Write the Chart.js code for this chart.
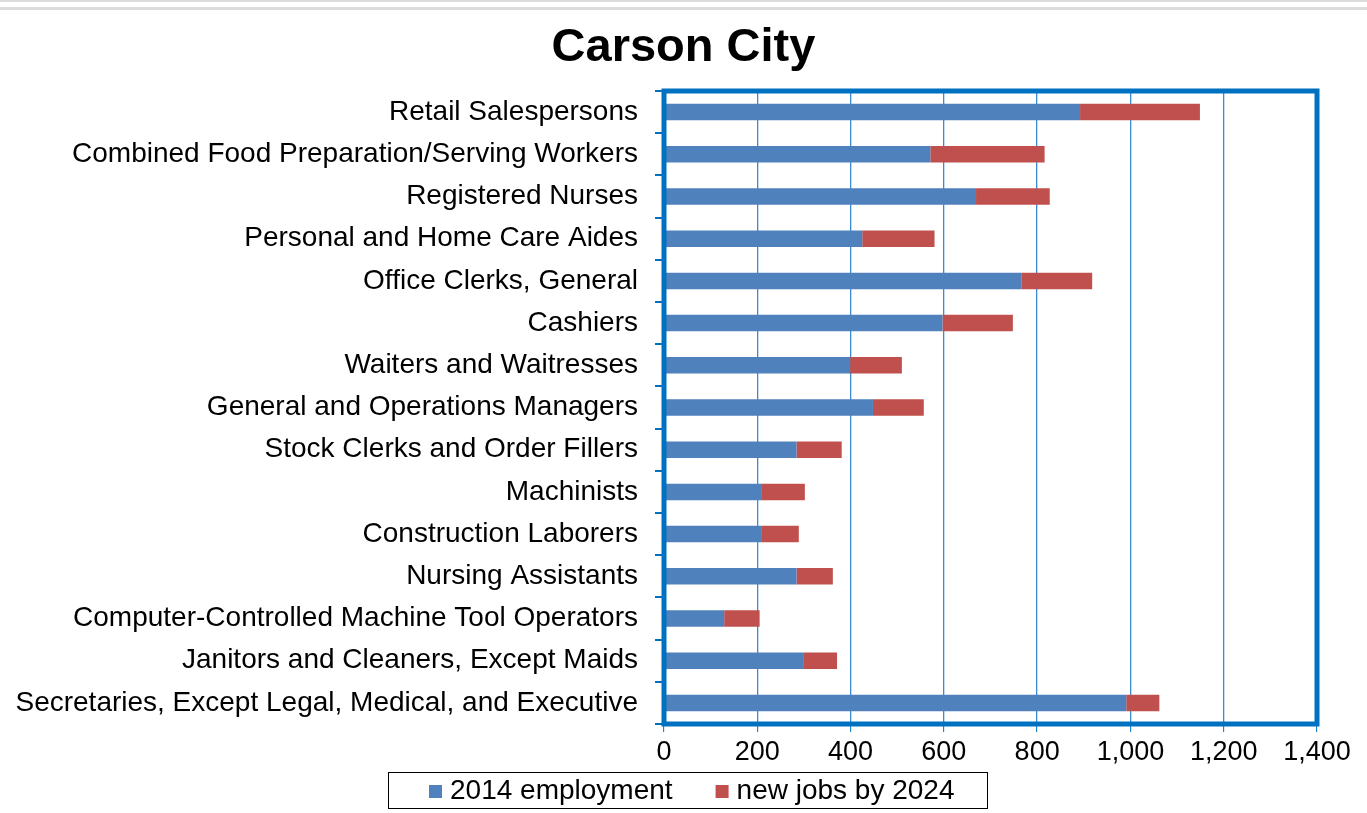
<!DOCTYPE html>
<html>
<head>
<meta charset="utf-8">
<script src="https://cdn.jsdelivr.net/npm/chart.js@4.4.1/dist/chart.umd.min.js"></script>
<style>
html,body{margin:0;padding:0;background:#fff;overflow:hidden}
#wrap{width:1367px;height:813px;position:relative}
</style>
</head>
<body>
<div id="wrap"><canvas id="c" width="1367" height="813"></canvas></div>
<script>
const chartTitle = 'Carson City';
const categories = [
  'Retail Salespersons',
  'Combined Food Preparation/Serving Workers',
  'Registered Nurses',
  'Personal and Home Care Aides',
  'Office Clerks, General',
  'Cashiers',
  'Waiters and Waitresses',
  'General and Operations Managers',
  'Stock Clerks and Order Fillers',
  'Machinists',
  'Construction Laborers',
  'Nursing Assistants',
  'Computer-Controlled Machine Tool Operators',
  'Janitors and Cleaners, Except Maids',
  'Secretaries, Except Legal, Medical, and Executive'
];
const employment2014 = [892, 571, 669, 425, 766, 597, 399, 448, 284, 210, 210, 284, 129, 300, 991];
const newJobs2024    = [257, 245, 158, 155, 152, 151, 111, 109, 97, 92, 79, 78, 76, 71, 71];
const seriesLabels = ['2014 employment', 'new jobs by 2024'];
const xTicks = [0, 200, 400, 600, 800, 1000, 1200, 1400];

const FONT = '"Liberation Sans", Arial, sans-serif';
const BLUE = '#4F81BD';
const RED = '#C0504D';
const FRAME = '#0070C0';
const LEGEND_FONT = '28px ' + FONT;

const decor = {
  id: 'decor',
  beforeDraw(chart) {
    const ctx = chart.ctx;
    ctx.save();
    ctx.fillStyle = '#fff';
    ctx.fillRect(0, 0, chart.width, chart.height);
    ctx.fillStyle = '#dcdcdc';
    ctx.fillRect(0, 0, chart.width, 2);
    ctx.fillRect(0, 7, chart.width, 3);
    ctx.restore();
  },
  afterDatasetsDraw(chart) {
    const ctx = chart.ctx, a = chart.chartArea;
    ctx.save();
    ctx.strokeStyle = FRAME;
    ctx.lineWidth = 5;
    ctx.strokeRect(a.left, a.top, a.right - a.left, a.bottom - a.top);
    ctx.restore();
  },
  afterDraw(chart) {
    // boxed legend below the x axis, built from the datasets
    const ctx = chart.ctx;
    ctx.save();
    ctx.font = LEGEND_FONT;
    const ds = chart.data.datasets;
    const padL = 41, padR = 32, sq = 13, gapSq = 8, gapItem = 43;
    const widths = ds.map(d => ctx.measureText(d.label).width);
    let total = padL + padR;
    widths.forEach((w, i) => { total += sq + gapSq + w + (i > 0 ? gapItem : 0); });
    const boxH = 36;
    const left = Math.round(chart.width / 2 + 3.5 - total / 2);
    const top = chart.height - 41;
    ctx.strokeStyle = '#000';
    ctx.lineWidth = 1;
    ctx.strokeRect(left + 0.5, top + 0.5, Math.round(total), boxH);
    const cy = top + boxH / 2 + 1;
    let x = left + padL;
    ds.forEach((d, i) => {
      if (i > 0) x += gapItem;
      ctx.fillStyle = d.backgroundColor;
      ctx.fillRect(x, Math.round(cy - sq / 2), sq, sq);
      x += sq + gapSq;
      ctx.fillStyle = '#000';
      ctx.textBaseline = 'middle';
      ctx.textAlign = 'left';
      ctx.fillText(d.label, x, cy);
      x += widths[i];
    });
    ctx.restore();
  }
};

new Chart(document.getElementById('c').getContext('2d'), {
  type: 'bar',
  data: {
    labels: categories,
    datasets: [
      { label: seriesLabels[0], data: employment2014, backgroundColor: BLUE, borderWidth: 0, barPercentage: 0.39, categoryPercentage: 1 },
      { label: seriesLabels[1], data: newJobs2024, backgroundColor: RED, borderWidth: 0, barPercentage: 0.39, categoryPercentage: 1 }
    ]
  },
  options: {
    indexAxis: 'y',
    responsive: false,
    animation: false,
    layout: { padding: 0 },
    plugins: {
      title: {
        display: true, text: chartTitle, color: '#000',
        font: { family: FONT, size: 47, weight: 'bold' },
        padding: { top: 20, bottom: 14.6 }
      },
      legend: { display: false },
      tooltip: { enabled: false }
    },
    scales: {
      x: {
        stacked: true, min: 0, max: 1400,
        afterBuildTicks: s => { s.ticks = xTicks.map(v => ({ value: v })); },
        ticks: { color: '#000', font: { family: FONT, size: 27 }, padding: 4, maxRotation: 0,
                 callback: v => Number(v).toLocaleString('en-US') },
        grid: { color: '#3A8BD3', lineWidth: 1.3, tickLength: 8, tickColor: FRAME, tickWidth: 1 },
        border: { display: false },
        afterFit: s => { s.height = 813 - 724; s.paddingRight = 50; }
      },
      y: {
        stacked: true,
        ticks: { color: '#000', font: { family: FONT, size: 28 }, padding: 17, autoSkip: false },
        grid: { drawOnChartArea: false, tickLength: 9, color: FRAME, lineWidth: 2 },
        border: { display: false },
        afterFit: s => { s.width = 664; }
      }
    }
  },
  plugins: [decor]
});
</script>
</body>
</html>
